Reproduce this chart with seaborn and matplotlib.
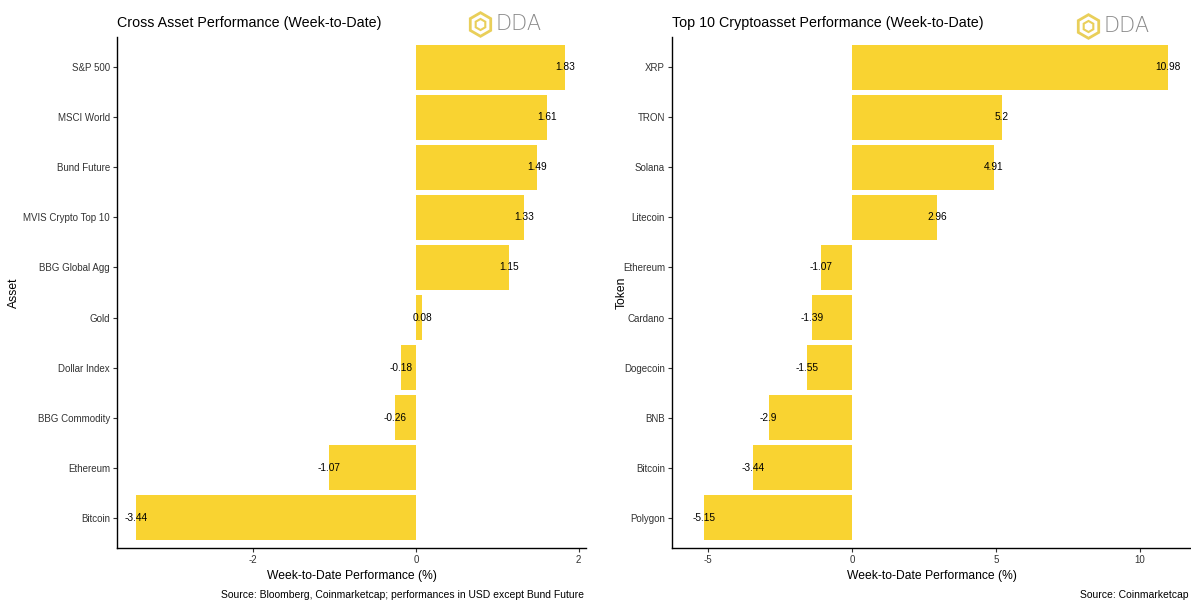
import matplotlib
matplotlib.use("Agg")
import matplotlib.pyplot as plt
from matplotlib.lines import Line2D
import seaborn as sns
import pandas as pd

# ---- data ----
assets = ["S&P 500", "MSCI World", "Bund Future", "MVIS Crypto Top 10", "BBG Global Agg",
          "Gold", "Dollar Index", "BBG Commodity", "Ethereum", "Bitcoin"]
asset_perf = [1.83, 1.61, 1.49, 1.33, 1.15, 0.08, -0.18, -0.26, -1.07, -3.44]

tokens = ["XRP", "TRON", "Solana", "Litecoin", "Ethereum", "Cardano", "Dogecoin",
          "BNB", "Bitcoin", "Polygon"]
token_perf = [10.98, 5.2, 4.91, 2.96, -1.07, -1.39, -1.55, -2.9, -3.44, -5.15]

left_ticks = [-2, 0, 2]
right_ticks = [-5, 0, 5, 10]

sns.set_theme(style="white")
plt.rcParams['font.family'] = ['Liberation Sans', 'DejaVu Sans']

BAR = "#F9D331"
W, H = 1191, 603
fig = plt.figure(figsize=(W / 100, H / 100), dpi=100)

def px_axes(x0, x1, y0, y1):
    return fig.add_axes([x0 / W, 1 - y1 / H, (x1 - x0) / W, (y1 - y0) / H])

ax1 = px_axes(117, 586, 37, 548)
ax2 = px_axes(672, 1192, 37, 548)

def draw(ax, cats, vals, ticks, xlim, ylabel, title, ylab_x):
    df = pd.DataFrame({"cat": cats, "val": vals})
    sns.barplot(data=df, x="val", y="cat", order=cats, orient="h", color=BAR,
                width=0.9, saturation=1, ax=ax, edgecolor="none")
    for i, v in enumerate(vals):
        ax.text(v, i, f"{v:g}", ha="center", va="center", fontsize=7.3, color="black")
    ax.set_xlim(*xlim)
    ax.set_ylim(len(cats) - 0.4, -0.6)
    ax.set_xticks(ticks)
    ax.set_xticklabels([str(t) for t in ticks])
    ax.set_xlabel("Week-to-Date Performance (%)", fontsize=8.7, color="black", labelpad=4)
    ax.set_ylabel(ylabel, fontsize=8.7, color="black")
    ax.yaxis.set_label_coords(ylab_x, 0.5)
    ax.tick_params(axis="both", which="both", length=3, width=0.8, color="#333333",
                   labelsize=7.0, labelcolor="#333333", pad=2, left=True, bottom=True)
    for s in ["top", "right"]:
        ax.spines[s].set_visible(False)
    for s in ["left", "bottom"]:
        ax.spines[s].set_color("black")
        ax.spines[s].set_linewidth(1.0)
    ax.set_title(title, loc="left", fontsize=10.3, color="black", pad=7)

draw(ax1, assets, asset_perf, left_ticks, (-3.67, 2.09), "Asset",
     "Cross Asset Performance (Week-to-Date)", (20 - 117) / 469)
draw(ax2, tokens, token_perf, right_ticks, (-6.25, 11.8), "Token",
     "Top 10 Cryptoasset Performance (Week-to-Date)", (628 - 672) / 520)

# logos
def logo(xc, yc):
    fig.add_artist(Line2D([xc / W], [1 - yc / H], marker="h", markersize=17,
                          markerfacecolor="none", markeredgecolor="#E9CF5A",
                          markeredgewidth=2.0, transform=fig.transFigure))
    fig.add_artist(Line2D([xc / W], [1 - yc / H], marker="h", markersize=8,
                          markerfacecolor="none", markeredgecolor="#E9CF5A",
                          markeredgewidth=1.5, transform=fig.transFigure))
    fig.text((xc + 15) / W, 1 - yc / H, "DDA", fontsize=15, color="#8a8a8a",
             ha="left", va="center", family=["DejaVu Sans"], fontweight="light")
logo(480, 24)
logo(1088, 26)

fig.text(584 / W, 1 - 595 / H,
         "Source: Bloomberg, Coinmarketcap; performances in USD except Bund Future",
         ha="right", va="center", fontsize=7.5, color="black")
fig.text(1189 / W, 1 - 595 / H, "Source: Coinmarketcap",
         ha="right", va="center", fontsize=7.5, color="black")

fig.savefig("out.png", dpi=100, facecolor="white")
